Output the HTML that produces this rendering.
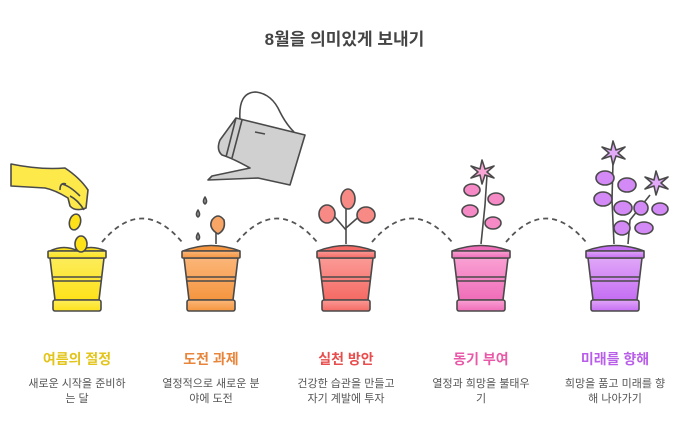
<!DOCTYPE html>
<html><head><meta charset="utf-8"><style>
html,body{margin:0;padding:0;background:#fff;}
body{width:689px;height:439px;overflow:hidden;position:relative;font-family:"Liberation Sans","Noto Sans CJK KR",sans-serif;}
.t{position:absolute;width:130px;text-align:center;font-weight:bold;font-size:14px;top:349px;}
.d{position:absolute;width:100px;text-align:center;font-size:11px;color:#555;top:377px;line-height:15px;}
h1{position:absolute;top:25px;left:0;width:689px;text-align:center;margin:0;font-size:17px;color:#444;font-weight:bold;}
</style></head><body>
<h1>8월을 의미있게 보내기</h1>
<svg width="689" height="439" style="position:absolute;left:0;top:0" xmlns="http://www.w3.org/2000/svg">
<defs>
<linearGradient id="gy" x1="0" y1="0" x2="0" y2="1"><stop offset="0" stop-color="#fdec5a"/><stop offset="1" stop-color="#fde21a"/></linearGradient>
<linearGradient id="go" x1="0" y1="0" x2="0" y2="1"><stop offset="0" stop-color="#fbb679"/><stop offset="1" stop-color="#f5953f"/></linearGradient>
<linearGradient id="gr" x1="0" y1="0" x2="0" y2="1"><stop offset="0" stop-color="#fb9a96"/><stop offset="1" stop-color="#f56a64"/></linearGradient>
<linearGradient id="gp" x1="0" y1="0" x2="0" y2="1"><stop offset="0" stop-color="#f9a0d3"/><stop offset="1" stop-color="#f06db8"/></linearGradient>
<linearGradient id="gv" x1="0" y1="0" x2="0" y2="1"><stop offset="0" stop-color="#e0a6f8"/><stop offset="1" stop-color="#c56ef3"/></linearGradient>
<g id="pot">
<path d="M-27 258 L27 258 L22 300 L-22 300 Z"/>
<rect x="-29" y="251" width="58" height="7" rx="1"/>
<rect x="-24" y="300" width="48" height="11" rx="2"/>
<line x1="-25" y1="277" x2="25" y2="277"/><line x1="-25" y1="281" x2="25" y2="281"/>
</g>
</defs>
<g stroke="#555" stroke-width="1.8" fill="none" stroke-dasharray="5,4">
<path d="M102 242 Q142 195 182 242"/><path d="M237 242 Q277 195 317 242"/><path d="M372 242 Q412 195 452 242"/><path d="M506 242 Q546 195 586 242"/>
</g>
<g stroke="#4a4a4a" stroke-width="1.6" stroke-linejoin="round">
<path d="M50 251 Q64 244 78 251 Q90 244 106 251 Z" fill="#fde21a"/>
<g transform="translate(77,0)" fill="url(#gy)"><use href="#pot"/></g>
<ellipse cx="81" cy="244" rx="6" ry="8" fill="#fde21a"/>
<ellipse cx="75" cy="222" rx="5.5" ry="8" fill="#fde21a" transform="rotate(15 75 222)"/>
<path d="M11 164 Q40 170 65 168 Q80 178 88 190 L86 208 Q75 212 70 206 L68 198 Q55 190 45 188 L11 186 Z" fill="#fdea4a"/>
<path d="M62 184 Q70 186 80 196 M70 196 Q78 200 84 210 M60 190 Q60 182 66 184" fill="none"/>
<path d="M183 251 Q211 240 240 251 Z" fill="#f5953f"/>
<g transform="translate(211,0)" fill="url(#go)"><use href="#pot"/></g>
<path d="M216 244 L216 232" fill="none"/>
<path d="M218 234 Q208 228 212 220 Q218 212 224 220 Q226 230 218 234 Z" fill="#f8a565"/>
<g fill="#aaa"><path d="M205 197 q-3 5 0 7 q3 -2 0 -7z"/><path d="M198 210 q-3 5 0 7 q3 -2 0 -7z"/><path d="M198 233 q-3 5 0 7 q3 -2 0 -7z"/></g>
<path d="M240 120 Q238 92 256 92 Q272 94 280 112 Q286 124 294 132" fill="none"/>
<path d="M236 118 L305 135 L290 185 L258 178 L208 180 L212 176 L250 168 Q232 158 222 155 Q216 150 220 140 Z" fill="#d0d0d0"/>
<path d="M236 118 L226 157 M242 120 L232 158 M255 132 L265 134" fill="none"/>
<path d="M318 251 Q346 240 374 251 Z" fill="#f56a64"/>
<g transform="translate(346,0)" fill="url(#gr)"><use href="#pot"/></g>
<path d="M346 244 L346 200 M346 230 L334 216 M346 228 L362 214" fill="none"/>
<ellipse cx="327" cy="214" rx="8" ry="9" fill="#f88a85"/>
<ellipse cx="348" cy="199" rx="7" ry="10" fill="#f88a85"/>
<ellipse cx="366" cy="215" rx="9" ry="8" fill="#f88a85"/>
<path d="M452 251 Q481 240 510 251 Z" fill="#f06db8"/>
<g transform="translate(481,0)" fill="url(#gp)"><use href="#pot"/></g>
<path d="M481 244 L485 205 L487 175" fill="none"/>
<g fill="#f58ac7"><ellipse cx="472" cy="190" rx="8" ry="6"/><ellipse cx="496" cy="199" rx="8" ry="6"/><ellipse cx="470" cy="211" rx="8" ry="6"/><ellipse cx="493" cy="223" rx="8" ry="6"/></g>
<path d="M482 160 l3 9 l9 -3 l-7 6 l7 6 l-9 -3 l-3 9 l-2 -9 l-9 3 l7 -6 l-7 -6 l9 3 z" fill="#f9a6d6"/>
<path d="M586 251 Q615 240 644 251 Z" fill="#c56ef3"/>
<g transform="translate(615,0)" fill="url(#gv)"><use href="#pot"/></g>
<path d="M614 244 L612 200 L613 162 M628 244 L630 220 L650 195" fill="none"/>
<g fill="#d48af6"><ellipse cx="605" cy="178" rx="9" ry="7"/><ellipse cx="627" cy="185" rx="9" ry="7"/><ellipse cx="603" cy="199" rx="9" ry="7"/><ellipse cx="623" cy="208" rx="9" ry="7"/><ellipse cx="641" cy="208" rx="7" ry="7"/><ellipse cx="660" cy="209" rx="8" ry="6"/><ellipse cx="622" cy="228" rx="8" ry="7"/><ellipse cx="644" cy="228" rx="9" ry="6"/></g>
<path d="M613 141 l3 9 l9 -3 l-7 6 l7 6 l-9 -3 l-3 9 l-2 -9 l-9 3 l7 -6 l-7 -6 l9 3 z" fill="#e2aaf8"/>
<path d="M656 171 l3 9 l9 -3 l-7 6 l7 6 l-9 -3 l-3 9 l-2 -9 l-9 3 l7 -6 l-7 -6 l9 3 z" fill="#e2aaf8"/>
</g>
</svg>
<div class="t" style="left:12px;color:#e3c41a">여름의 절정</div>
<div class="t" style="left:146px;color:#e8853a">도전 과제</div>
<div class="t" style="left:281px;color:#e84e4e">실천 방안</div>
<div class="t" style="left:416px;color:#e85aa8">동기 부여</div>
<div class="t" style="left:550px;color:#b95ee8">미래를 향해</div>
<div class="d" style="left:27px">새로운 시작을 준비하는 달</div>
<div class="d" style="left:161px">열정적으로 새로운 분야에 도전</div>
<div class="d" style="left:296px">건강한 습관을 만들고 자기 계발에 투자</div>
<div class="d" style="left:431px">열정과 희망을 불태우기</div>
<div class="d" style="left:562px;width:106px">희망을 품고 미래를 향해 나아가기</div>
</body></html>
